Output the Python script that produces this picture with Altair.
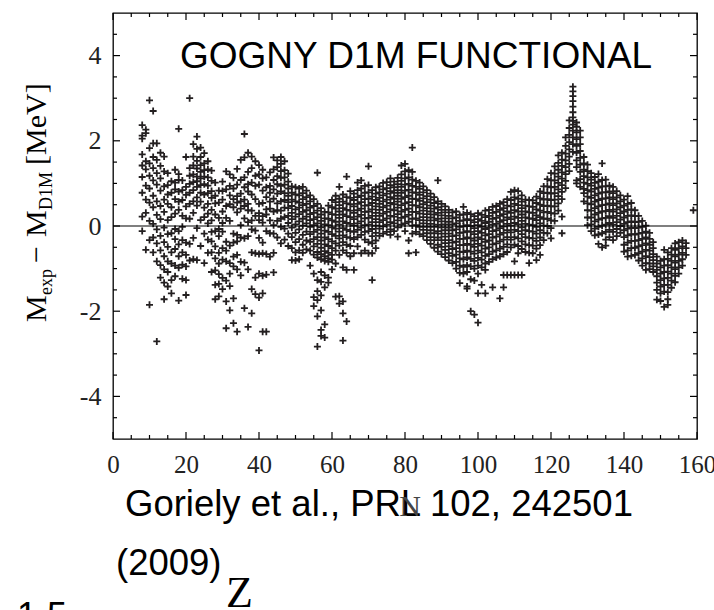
import altair as alt
import pandas as pd

# Residuals M_exp - M_D1M (MeV), one list per neutron number N
# Block A: N = 8 .. 47
res_a = [
    [2.37, 2.12, 2.05, 1.68, 1.42, 1.15, 0.78, 0.22, -0.12],
    [2.26, 2.18, 1.52, 1.33, 0.95, 0.62, 0.31, -0.56],
    [2.95, 1.83, 1.47, 1.18, 0.88, 0.55, 0.12, -0.33, -1.85],
    [2.7, 1.94, 1.62, 1.36, 1.07, 0.71, 0.44, 0.05, -0.27, -0.62],
    [1.94, 1.55, 1.24, 0.97, 0.58, 0.26, -0.08, -0.41, -0.83, -2.71],
    [1.72, 1.41, 1.12, 0.83, 0.47, 0.16, -0.23, -0.57, -0.92, -1.21],
    [1.63, 1.28, 0.93, 0.62, 0.33, -0.04, -0.38, -0.71, -1.02, -1.33, -1.72],
    [1.24, 0.96, 0.74, 0.52, 0.14, -0.19, -0.49, -0.83, -1.08, -1.42],
    [1.05, 0.78, 0.44, 0.21, -0.17, -0.62, -0.88, -1.27, -1.58],
    [1.32, 1.02, 0.86, 0.63, 0.29, -0.07, -0.31, -0.54, -0.93, -1.18],
    [2.28, 1.22, 1.08, 0.81, 0.57, 0.38, -0.12, -0.43, -0.71, -0.98, -1.75],
    [1.07, 0.84, 0.61, 0.24, -0.02, -0.33, -0.62, -0.91, -1.24],
    [1.62, 0.92, 0.73, 0.46, 0.18, -0.39, -0.68, -0.95, -1.27, -1.62],
    [3.0, 1.36, 1.18, 0.99, 0.78, 0.52, 0.17, -0.42, -0.81],
    [1.92, 1.63, 1.42, 1.21, 1.03, 0.84, 0.58, 0.31, -0.28, -0.78],
    [2.1, 1.81, 1.53, 1.35, 1.16, 1.05, 0.92, 0.67, 0.48, -0.05, -0.8],
    [1.84, 1.62, 1.43, 1.27, 1.12, 0.96, 0.78, 0.57, 0.14, -0.47],
    [1.71, 1.47, 1.31, 1.16, 0.98, 0.74, 0.43, 0.21, -0.18, -0.87],
    [1.52, 1.33, 1.14, 0.95, 0.77, 0.52, 0.29, 0.06, -0.32, -0.63],
    [1.3, 1.06, 0.82, 0.66, 0.38, 0.13, -0.14, -0.36, -0.62, -1.08],
    [1.02, 0.71, 0.53, 0.27, -0.12, -0.48, -0.76, -1.04, -1.38, -1.72],
    [0.83, 0.55, 0.19, -0.07, -0.24, -0.63, -0.88, -1.13, -1.36, -1.65],
    [1.04, 0.82, 0.62, 0.34, 0.07, -0.13, -0.52, -0.79, -1.22, -1.48],
    [1.28, 0.86, 0.47, 0.19, -0.37, -0.58, -0.83, -1.28, -1.77, -2.4],
    [1.21, 0.94, 0.72, 0.51, 0.12, -0.46, -0.87, -1.12, -1.41, -1.98],
    [1.13, 0.88, 0.63, 0.44, -0.18, -0.39, -0.72, -0.95, -1.7, -2.28],
    [1.34, 0.97, 0.7, 0.55, 0.32, -0.21, -0.36, -0.68, -1.02, -2.48],
    [1.55, 1.08, 0.76, 0.58, 0.41, 0.02, -0.27, -0.84, -1.16],
    [2.16, 1.61, 1.14, 0.91, 0.62, 0.47, 0.18, -0.29, -0.86, -1.93],
    [1.72, 1.27, 0.98, 0.81, 0.52, 0.37, 0.09, -0.24, -1.02, -2.37],
    [1.63, 1.36, 1.02, 0.74, 0.36, 0.13, -0.08, -0.62, -1.48, -2.05],
    [1.52, 1.18, 0.94, 0.63, 0.24, -0.11, -0.64, -1.21, -1.6],
    [1.43, 1.21, 0.97, 0.52, 0.3, 0.14, -0.28, -0.66, -1.12, -1.68, -2.92],
    [1.32, 1.12, 0.83, 0.54, 0.23, 0.08, -0.39, -0.64, -1.17, -1.58, -2.48],
    [1.14, 0.91, 0.68, 0.39, 0.27, -0.12, -0.66, -1.14, -2.48],
    [1.26, 0.94, 0.78, 0.57, 0.41, 0.13, -0.17, -0.72],
    [1.61, 1.33, 1.08, 0.86, 0.64, 0.34, 0.02, -0.18, -0.63, -1.09],
    [1.54, 1.38, 1.17, 0.98, 0.76, 0.53, 0.37, 0.12, -0.27],
    [1.62, 1.46, 1.29, 1.13, 0.94, 0.81, 0.58, 0.36, 0.17, -0.02, -0.41],
    [1.52, 1.31, 1.14, 0.97, 0.77, 0.61, 0.43, 0.21, -0.06, -0.32],
]
# Block B: N = 48 .. 87
res_b = [
    [1.23, 1.04, 0.88, 0.71, 0.56, 0.42, 0.24, 0.07, -0.18, -0.47],
    [0.93, 0.78, 0.62, 0.47, 0.31, 0.16, -0.04, -0.26, -0.52, -0.8],
    [0.91, 0.74, 0.58, 0.39, 0.22, 0.04, -0.16, -0.38, -0.62, -0.81],
    [0.88, 0.72, 0.55, 0.43, 0.28, 0.11, -0.08, -0.31, -0.57, -0.78],
    [0.92, 0.77, 0.63, 0.49, 0.33, 0.17, 0.01, -0.21, -0.44, -0.63],
    [0.83, 0.68, 0.52, 0.37, 0.22, 0.06, -0.13, -0.34, -0.55],
    [0.72, 0.58, 0.43, 0.28, 0.14, -0.02, -0.19, -0.37, -0.58, -0.93],
    [0.63, 0.47, 0.31, 0.16, 0.02, -0.14, -0.31, -0.48, -0.67, -1.12, -1.67, -1.88],
    [1.25, 0.52, 0.36, 0.21, 0.06, -0.09, -0.26, -0.42, -0.61, -0.74, -1.27, -1.53, -1.74, -2.12, -2.83],
    [0.42, 0.27, 0.12, -0.03, -0.18, -0.34, -0.51, -0.66, -0.78, -1.08, -1.31, -1.63, -1.98, -2.44, -2.58],
    [0.33, 0.18, 0.04, -0.11, -0.27, -0.43, -0.59, -0.71, -0.82, -1.16, -1.44, -2.31, -2.62],
    [0.48, 0.32, 0.17, 0.02, -0.14, -0.31, -0.47, -0.63, -0.76, -0.84, -1.21, -1.33],
    [0.61, 0.44, 0.28, 0.13, -0.03, -0.19, -0.36, -0.52, -0.68, -0.79, -1.02],
    [0.71, 0.56, 0.41, 0.26, 0.1, -0.06, -0.23, -0.41, -0.58, -0.88, -1.66],
    [0.92, 0.64, 0.49, 0.34, 0.19, 0.03, -0.13, -0.29, -0.46, -0.68, -1.65, -1.82],
    [0.74, 0.57, 0.42, 0.27, 0.11, -0.05, -0.22, -0.38, -0.57, -0.97, -1.77, -2.05, -2.69],
    [1.16, 0.68, 0.53, 0.38, 0.23, 0.07, -0.09, -0.26, -0.44, -0.63, -1.03, -2.24],
    [0.82, 0.66, 0.51, 0.36, 0.21, 0.05, -0.12, -0.28, -0.47, -0.71],
    [0.76, 0.61, 0.46, 0.31, 0.16, 0.01, -0.14, -0.31, -0.64, -1.03],
    [1.02, 0.84, 0.68, 0.52, 0.37, 0.22, 0.06, -0.09, -0.26, -0.48],
    [1.07, 0.88, 0.71, 0.56, 0.41, 0.26, 0.11, -0.04, -0.21, -0.64],
    [0.94, 0.78, 0.63, 0.48, 0.33, 0.18, 0.02, -0.14, -0.32, -0.58],
    [1.4, 0.96, 0.79, 0.64, 0.49, 0.34, 0.19, 0.03, -0.12, -0.38, -0.64],
    [0.84, 0.69, 0.54, 0.39, 0.24, 0.09, -0.07, -0.24, -0.41, -0.64, -1.27],
    [0.91, 0.76, 0.61, 0.46, 0.31, 0.16, 0.01, -0.16, -0.34, -0.52],
    [0.93, 0.79, 0.66, 0.52, 0.38, 0.24, 0.09, -0.06, -0.23],
    [1.01, 0.86, 0.72, 0.58, 0.44, 0.29, 0.14, -0.01, -0.18],
    [1.03, 0.89, 0.76, 0.62, 0.48, 0.33, 0.18, 0.03, -0.14],
    [1.12, 0.96, 0.82, 0.68, 0.54, 0.39, 0.24, 0.09, -0.08, -0.21],
    [1.04, 0.91, 0.78, 0.64, 0.51, 0.37, 0.22, 0.06, -0.12],
    [1.13, 0.98, 0.84, 0.71, 0.57, 0.43, 0.28, 0.13, -0.03, -0.25],
    [1.42, 1.21, 1.06, 0.92, 0.78, 0.64, 0.49, 0.34, 0.19, 0.03],
    [1.46, 1.28, 1.12, 0.97, 0.83, 0.68, 0.53, 0.38, 0.22, 0.06, -0.12],
    [1.31, 1.14, 0.99, 0.85, 0.71, 0.56, 0.41, 0.26, 0.1, -0.34, -0.64],
    [1.84, 1.27, 1.09, 0.94, 0.79, 0.64, 0.49, 0.33, 0.17, 0.01, -0.18],
    [1.06, 0.92, 0.78, 0.63, 0.48, 0.33, 0.18, 0.02, -0.14, -0.62],
    [1.02, 0.87, 0.73, 0.59, 0.44, 0.29, 0.14, -0.02, -0.19],
    [0.93, 0.79, 0.65, 0.51, 0.36, 0.21, 0.06, -0.09, -0.24],
    [0.84, 0.7, 0.56, 0.42, 0.28, 0.13, -0.02, -0.17, -0.33],
    [0.76, 0.62, 0.48, 0.34, 0.2, 0.05, -0.1, -0.26, -0.42],
]
# Block C: N = 88 .. 127
res_c = [
    [0.68, 0.54, 0.41, 0.27, 0.13, -0.02, -0.17, -0.33, -0.51],
    [1.07, 0.58, 0.44, 0.31, 0.17, 0.03, -0.12, -0.27, -0.44, -0.6],
    [0.52, 0.38, 0.25, 0.11, -0.03, -0.18, -0.33, -0.49, -0.66],
    [0.46, 0.32, 0.18, 0.04, -0.1, -0.25, -0.4, -0.56, -0.73],
    [0.38, 0.24, 0.1, -0.04, -0.18, -0.33, -0.48, -0.64, -0.81],
    [0.32, 0.18, 0.04, -0.1, -0.24, -0.39, -0.54, -0.7, -0.87],
    [0.34, 0.2, 0.06, -0.08, -0.22, -0.37, -0.52, -0.67, -0.84, -1.0],
    [0.26, 0.12, -0.02, -0.16, -0.3, -0.45, -0.6, -0.76, -0.93, -1.1, -1.34],
    [0.45, 0.27, 0.13, -0.01, -0.15, -0.3, -0.45, -0.61, -0.78, -0.96, -1.12],
    [0.31, 0.16, 0.02, -0.12, -0.27, -0.42, -0.58, -0.74, -0.92, -1.08, -1.42, -1.47],
    [0.28, 0.14, 0.0, -0.14, -0.29, -0.44, -0.6, -0.77, -0.95, -1.25, -2.0],
    [0.23, 0.09, -0.05, -0.19, -0.34, -0.49, -0.65, -0.82, -1.0, -1.28, -2.08],
    [0.3, 0.16, 0.02, -0.12, -0.27, -0.42, -0.58, -0.75, -0.93, -1.12, -1.58, -2.27],
    [0.26, 0.12, -0.02, -0.16, -0.31, -0.46, -0.62, -0.79, -0.97, -1.38],
    [0.36, 0.21, 0.07, -0.07, -0.22, -0.37, -0.53, -0.7, -0.88, -1.03, -1.58],
    [0.38, 0.24, 0.1, -0.04, -0.19, -0.34, -0.5, -0.66, -0.84],
    [0.45, 0.31, 0.17, 0.03, -0.12, -0.27, -0.43, -0.6, -0.78, -1.44],
    [0.47, 0.33, 0.19, 0.05, -0.1, -0.25, -0.41, -0.57, -0.74],
    [0.52, 0.38, 0.24, 0.1, -0.05, -0.2, -0.36, -0.53, -0.71, -1.7],
    [0.56, 0.42, 0.28, 0.14, -0.01, -0.16, -0.32, -0.49, -0.66, -1.15, -1.44],
    [0.63, 0.48, 0.34, 0.2, 0.05, -0.1, -0.26, -0.43, -0.61, -1.15],
    [0.8, 0.61, 0.46, 0.31, 0.16, 0.01, -0.15, -0.32, -0.5, -1.15],
    [0.84, 0.67, 0.52, 0.37, 0.22, 0.07, -0.09, -0.26, -0.44, -0.83, -1.15],
    [0.82, 0.64, 0.49, 0.34, 0.19, 0.04, -0.12, -0.29, -0.47, -0.64, -1.15],
    [0.72, 0.57, 0.42, 0.27, 0.12, -0.03, -0.19, -0.36, -0.54, -1.15],
    [0.62, 0.48, 0.34, 0.2, 0.05, -0.1, -0.26, -0.43, -0.61],
    [0.61, 0.46, 0.32, 0.18, 0.03, -0.12, -0.28, -0.45, -0.63, -0.87],
    [0.6, 0.45, 0.31, 0.17, 0.02, -0.13, -0.29, -0.46, -0.64],
    [0.69, 0.54, 0.39, 0.25, 0.14, -0.02, -0.18, -0.35, -0.53, -0.8],
    [0.81, 0.65, 0.5, 0.36, 0.21, 0.06, -0.1, -0.27, -0.45, -0.68],
    [0.93, 0.77, 0.62, 0.47, 0.32, 0.17, 0.01, -0.16, -0.33],
    [1.1, 0.93, 0.78, 0.63, 0.48, 0.33, 0.17, 0.0, -0.17],
    [1.24, 1.07, 0.91, 0.76, 0.61, 0.46, 0.3, 0.13, -0.05, -0.29],
    [1.4, 1.23, 1.07, 0.92, 0.77, 0.62, 0.46, 0.29, 0.12],
    [1.66, 1.48, 1.32, 1.16, 1.01, 0.86, 0.7, 0.53, 0.36],
    [1.72, 1.56, 1.41, 1.26, 1.11, 0.96, 0.8, 0.63, 0.22, -0.17],
    [2.08, 1.88, 1.7, 1.54, 1.38, 1.22, 1.06, 0.89],
    [2.48, 2.3, 2.14, 1.97, 1.8, 1.63, 1.46, 1.29],
    [3.27, 3.16, 3.05, 2.93, 2.8, 2.67, 2.55, 2.47, 2.38, 2.24, 2.08, 1.92, 1.74],
    [2.43, 2.33, 2.2, 2.04, 1.88, 1.72, 1.54, 1.38, 1.07, 1.0],
]
# Block D: N = 128 .. 157
res_d = [
    [2.24, 2.08, 1.92, 1.76, 1.6, 1.44, 1.27, 1.1, 0.92],
    [1.62, 1.47, 1.32, 1.17, 1.02, 0.87, 0.77, 0.58],
    [1.44, 1.29, 1.14, 0.99, 0.84, 0.69, 0.53, 0.37, 0.2, 0.02],
    [1.24, 1.09, 0.95, 0.81, 0.66, 0.51, 0.36, 0.2, 0.04, -0.12],
    [1.15, 1.01, 0.87, 0.72, 0.57, 0.42, 0.27, 0.11, -0.06, -0.22],
    [1.22, 1.04, 0.9, 0.76, 0.61, 0.46, 0.31, 0.15, -0.02, -0.2, -0.42],
    [1.47, 1.08, 0.93, 0.79, 0.64, 0.49, 0.34, 0.18, 0.01, -0.17, -0.5],
    [1.09, 0.93, 0.79, 0.65, 0.5, 0.35, 0.19, 0.03, -0.14, -0.32, -0.46],
    [0.95, 0.81, 0.67, 0.53, 0.38, 0.23, 0.07, -0.09, -0.26],
    [0.92, 0.77, 0.63, 0.49, 0.34, 0.19, 0.03, -0.14, -0.33],
    [0.82, 0.67, 0.53, 0.39, 0.24, 0.09, -0.07, -0.24],
    [0.72, 0.58, 0.44, 0.3, 0.15, 0.0, -0.16],
    [0.62, 0.48, 0.34, 0.2, 0.05, -0.1, -0.26, -0.44, -0.6],
    [0.7, 0.52, 0.38, 0.24, 0.09, -0.06, -0.22, -0.39, -0.57, -0.72],
    [0.54, 0.39, 0.25, 0.11, -0.04, -0.19, -0.35, -0.52, -0.7],
    [0.37, 0.23, 0.09, -0.05, -0.2, -0.35, -0.51, -0.68],
    [0.24, 0.1, -0.04, -0.18, -0.33, -0.48, -0.64, -0.81],
    [0.12, -0.02, -0.16, -0.3, -0.45, -0.6, -0.76, -0.93],
    [0.01, -0.13, -0.27, -0.41, -0.56, -0.71, -0.87, -1.03],
    [-0.16, -0.3, -0.44, -0.58, -0.73, -0.88, -1.01],
    [-0.38, -0.52, -0.66, -0.8, -0.95, -1.08],
    [-0.72, -0.88, -1.03, -1.18, -1.33, -1.5, -1.73],
    [-0.82, -0.97, -1.12, -1.27, -1.42, -1.58, -1.76],
    [-0.56, -0.78, -0.93, -1.08, -1.23, -1.38, -1.54, -1.9],
    [-0.62, -0.77, -0.92, -1.07, -1.22, -1.38, -1.55, -1.72, -1.85],
    [-0.52, -0.67, -0.82, -0.97, -1.12, -1.28, -1.45],
    [-0.41, -0.56, -0.71, -0.86, -1.01, -1.17, -1.32],
    [-0.38, -0.52, -0.67, -0.82, -0.97, -1.12],
    [-0.34, -0.48, -0.63, -0.78, -0.93],
    [-0.4, -0.52, -0.68],
]
block_starts = [8, 48, 88, 128]
extra_n = [159]
extra_res = [0.37]

x_major = [0, 20, 40, 60, 80, 100, 120, 140, 160]
x_minor = [v for v in range(0, 161, 5) if v % 20 != 0]
y_major = [-4, -2, 0, 2, 4]
y_minor = [v / 2 for v in range(-9, 10) if (v / 2) not in (-4, -2, 0, 2, 4)]

rows_n, rows_r = [], []
for start, block in zip(block_starts, [res_a, res_b, res_c, res_d]):
    for i, col in enumerate(block):
        for v in col:
            rows_n.append(start + i)
            rows_r.append(v)
rows_n += extra_n
rows_r += extra_res
df = pd.DataFrame({"N": rows_n, "dM": rows_r})

W, H = 584, 426
INK = "#231f20"
SERIF = "Liberation Serif"
SANS = "Liberation Sans"
xs = alt.Scale(domain=[0, 160], nice=False, zero=False)
ys = alt.Scale(domain=[-5, 5], nice=False, zero=False)
xax = alt.Axis(values=x_major, title=None, ticks=False, domain=False, grid=False,
               labelFont=SERIF, labelFontSize=25, labelColor="#222", labelPadding=13,
               labelFlush=False)
yax = alt.Axis(values=y_major, title=None, ticks=False, domain=False, grid=False,
               labelFont=SERIF, labelFontSize=26, labelColor="#222", labelPadding=12,
               labelExpr="'' + datum.value")

points = alt.Chart(df).mark_point(
    shape="M-1,0L1,0M0,-1L0,1", size=49, filled=False, strokeWidth=1.8,
    color=INK, opacity=1,
).encode(
    x=alt.X("N:Q", scale=xs, axis=xax),
    y=alt.Y("dM:Q", scale=ys, axis=yax),
)

zero = alt.Chart(pd.DataFrame({"z": [0]})).mark_rule(color="black", strokeWidth=1.2).encode(
    y=alt.Y("z:Q", scale=ys, axis=yax), x=alt.value(0), x2=alt.value(W))


def xticks(vals, length):
    d = pd.DataFrame({"t": vals})
    bot = alt.Chart(d).mark_rule(color="black", strokeWidth=1.2).encode(
        x=alt.X("t:Q", scale=xs, axis=xax), y=alt.value(H), y2=alt.value(H - length))
    top = alt.Chart(d).mark_rule(color="black", strokeWidth=1.2).encode(
        x=alt.X("t:Q", scale=xs, axis=xax), y=alt.value(0), y2=alt.value(length))
    return [bot, top]


def yticks(vals, length):
    d = pd.DataFrame({"t": vals})
    left = alt.Chart(d).mark_rule(color="black", strokeWidth=1.2).encode(
        y=alt.Y("t:Q", scale=ys, axis=yax), x=alt.value(0), x2=alt.value(length))
    right = alt.Chart(d).mark_rule(color="black", strokeWidth=1.2).encode(
        y=alt.Y("t:Q", scale=ys, axis=yax), x=alt.value(W), x2=alt.value(W - length))
    return [left, right]


one = pd.DataFrame({"a": [0]})


def label(txt, x, y, size, font, angle=0, align="left", color="black"):
    kw = dict(text=txt, font=font, fontSize=size, align=align,
              baseline="alphabetic", color=color)
    if angle:
        kw["angle"] = angle
    return alt.Chart(one).mark_text(**kw).encode(x=alt.value(x), y=alt.value(y))


texts = [
    label("GOGNY D1M FUNCTIONAL", 67, 55, 37, SANS),
    # y-axis title pieces (rotated)
    label("M", -67, 309, 30, SERIF, angle=270),
    label("exp", -61, 282, 18, SERIF, angle=270),
    label("\u2212", -67, 250, 30, SERIF, angle=270),
    label("M", -67, 224, 30, SERIF, angle=270),
    label("D1M", -61, 197, 18, SERIF, angle=270),
    label("[MeV]", -67, 152, 30, SERIF, angle=270),
    # footer
    label("Goriely et al., PRL 102, 242501", 12, 503, 36.5, SANS),
    label("N", 297, 503, 30, SERIF, align="center", color="#444"),
    label("(2009)", 3, 562, 36.5, SANS),
    label("Z", 113, 594, 44, SERIF),
    label("1.5", -96, 615, 36, SANS),
]

layers = ([points, zero] + xticks(x_major, 7) + xticks(x_minor, 4)
          + yticks(y_major, 7) + yticks(y_minor, 4) + texts)

chart = alt.layer(*layers).properties(
    width=W, height=H,
    autosize=alt.AutoSizeParams(type="none"),
    padding={"left": 113, "top": 13, "right": 17, "bottom": 171},
    background="white",
).configure_view(stroke="black", strokeWidth=1.3)

chart.save("out.html", embed_options={"renderer": "svg", "actions": False})
